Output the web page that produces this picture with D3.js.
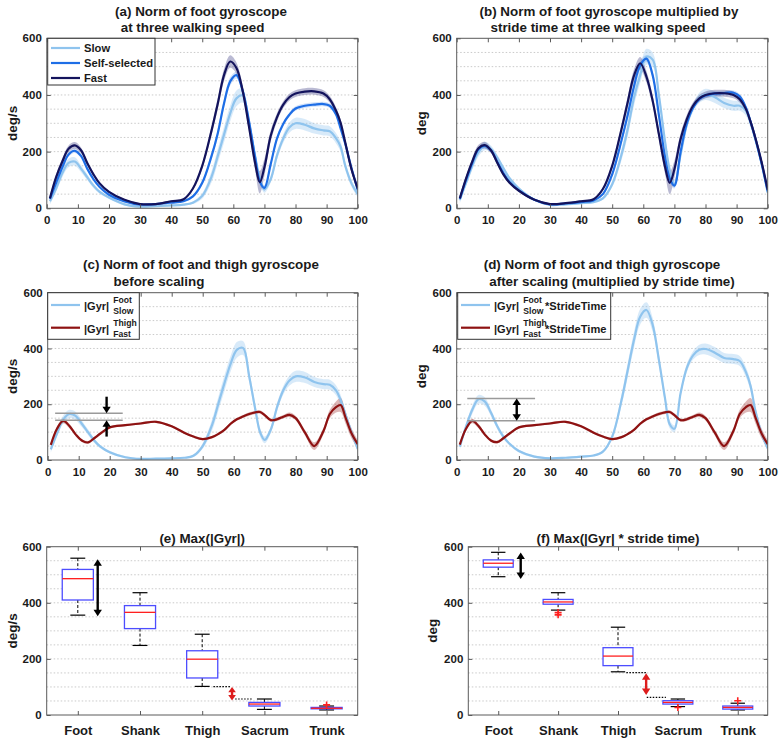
<!DOCTYPE html>
<html><head><meta charset="utf-8">
<script src="https://cdn.jsdelivr.net/npm/d3@7"></script>
<style>
body{margin:0;background:#fff}
svg{display:block;font-family:"Liberation Sans",Arial,sans-serif;font-weight:bold}
</style>
</head><body>
<svg id="c" width="780" height="741"></svg>
<script>
// ---------- DATA ----------
const pct = [1,3,5,7,9,11,13,15,17,20,25,30,35,40,44,47,50,53,55,57,59,61,63,65,67,68.5,70,72,74,76,78,80,83,86,89,91,93,94.5,96,98,100];

// (a) raw foot gyroscope norm (deg/s)
const slowA = [25,70,125,160,165,140,110,80,58,38, 14,6,8,10,13,20,44,112,185,260, 335,388,398,302,185,105,67,102,185,245, 285,300,295,282,275,272,248,218,150,88, 50];
const selfA = [33,90,145,190,203,185,140,103,75,48, 24,13,15,20,25,42,90,185,265,370, 448,470,415,310,180,95,72,155,245,297, 330,352,362,366,368,362,332,282,228,142, 65];
const fastA = [35,110,165,210,222,205,160,120,88,58, 30,15,15,25,32,70,150,275,370,470, 518,495,415,290,160,92,145,255,320,365, 392,405,412,413,405,385,345,302,232,138, 70];

// (b) multiplied by stride time (deg)
const slowB = [30,90,150,198,220,210,180,142,106,70, 30,12,14,18,22,35,85,190,280,390, 470,535,525,400,235,135,85,190,295,355, 390,402,392,372,362,362,345,302,245,160, 55];
const selfB = [33,100,160,208,220,205,165,125,93,63, 30,14,17,22,28,50,120,240,330,430, 505,528,470,330,180,105,80,200,300,355, 385,398,405,407,408,395,355,305,248,160, 60];
const fastB = [35,105,165,212,223,205,162,120,90,62, 30,15,18,25,32,68,150,280,375,468, 512,465,380,262,146,90,138,245,315,362, 388,400,406,406,400,385,350,305,250,165, 65];

// (c) before scaling, (d) after scaling
const footSlowC = [38,95,145,165,158,130,100,70,48,28, 10,4,5,6,8,15,50,125,200,275, 345,395,402,300,180,100,72,110,190,250, 285,300,296,280,272,270,250,215,165,100, 40];
const thighFastC = [54,112,140,122,92,70,63,78,95,117, 125,131,137,121,98,84,75,82,93,108, 130,146,156,165,171,172,161,143,146,155, 162,150,98,50,105,165,190,197,155,96, 57];
const footSlowD = [48,120,180,218,210,170,122,84,58,32, 12,6,8,12,16,30,84,215,323,430, 514,538,485,360,220,128,112,240,330,375, 395,398,385,366,362,355,315,265,179,96, 42];
const thighFastD = [55,112,140,122,92,70,64,78,95,117, 125,131,137,121,98,84,75,82,93,108, 130,146,156,165,171,172,161,143,146,155, 162,150,98,50,105,165,190,197,155,96, 57];

// shaded band half widths
const sdSlow = [12,12,15,15,15,12,10,8,6,5, 4,3,3,3,3,5,10,20,25,28, 28,28,25,20,18,15,12,12,15,15, 18,20,20,18,18,18,18,18,15,12, 10];
const sdSelf = [8,8,8,8,8,8,6,5,4,4, 3,3,3,3,3,4,8,12,15,15, 15,12,12,10,10,10,10,10,10,8, 8,8,8,8,8,8,8,8,8,8, 8];
const sdFast = [10,10,12,12,12,10,8,6,5,4, 3,3,3,3,3,5,10,15,20,22, 22,20,18,18,25,40,30,20,15,12, 12,12,12,12,12,12,12,12,12,12, 10];
const sdThigh = [8,8,8,8,6,5,5,5,4,4, 4,4,4,4,4,4,4,4,4,4, 5,5,5,6,6,6,6,6,6,6, 8,8,10,14,12,15,20,25,22,18, 15];

const xTicks = [0,10,20,30,40,50,60,70,80,90,100];
const yTicks = [0,200,400,600];
const gridVals = [50,100,150,200,250,300,350,400,450,500,550];
const segments = ["Foot","Shank","Thigh","Sacrum","Trunk"];

// (e) Max(|Gyr|)
const eLo  = [356,248,102,20,18];
const eQ1  = [410,308,132,32,22];
const eMed = [486,366,199,39,24];
const eQ3  = [519,390,229,45,27];
const eHi  = [559,436,288,57,32];
const eOut = [[5,36]];
// (f) Max(|Gyr| * stride time)
const fLo  = [493,374,154,30,18];
const fQ1  = [527,395,176,39,21];
const fMed = [541,403,210,45,27];
const fQ3  = [553,412,240,51,32];
const fHi  = [580,436,313,57,42];
const fOut = [[2,365],[2,357],[4,27],[5,51]];

// annotations
const cRefLines = [[2.4,24.2,168],[2.4,24.2,143]];
const dRefLines = [[3.4,25.2,221],[3.4,25.2,141]];

// ---------- STYLE ----------
const COL = {slow:"#8fc4ee", self:"#1e6ee6", fast:"#13135c", thigh:"#8e1212", box:"#4d4dff", med:"#ff2020", red:"#dd1c1c"};
const AX = "#5a5a5a", TXT = "#1a1a1a";
const svg = d3.select("#c");
svg.append("rect").attr("width",780).attr("height",741).attr("fill","#fff");

const P = {
  a:{x0:46.8,x1:357.7,y0:38.3,y1:208.3},
  b:{x0:456.7,x1:767.7,y0:38.3,y1:208.3},
  c:{x0:47.7,x1:357.7,y0:292.7,y1:460},
  d:{x0:456.7,x1:767.7,y0:292.7,y1:460},
  e:{x0:46.7,x1:357.7,y0:546.7,y1:715},
  f:{x0:468.3,x1:767.7,y0:546.7,y1:715}
};

let clipId = 0;
function setup(box){
  const y = d3.scaleLinear([0,600],[box.y1,box.y0]);
  const g = svg.append("g");
  g.selectAll("line.grid").data(gridVals).join("line").attr("class","grid")
    .attr("x1",box.x0).attr("x2",box.x1).attr("y1",d=>y(d)).attr("y2",d=>y(d))
    .attr("stroke","#c4c4c4").attr("stroke-width",0.9).attr("stroke-dasharray","1.5,2");
  const id = "clip"+(clipId++);
  svg.append("clipPath").attr("id",id).append("rect")
    .attr("x",box.x0).attr("y",box.y0).attr("width",box.x1-box.x0).attr("height",box.y1-box.y0);
  const data = svg.append("g").attr("clip-path",`url(#${id})`);
  return {y,data};
}

function styleAxis(sel, fs){
  sel.select(".domain").remove();
  sel.selectAll(".tick line").attr("stroke",AX);
  sel.selectAll(".tick text").attr("fill",TXT).attr("font-size",fs).attr("font-weight","bold")
    .attr("font-family","'Liberation Sans',Arial,sans-serif");
}

function axes(box, x, y, xVals, xFmt, xFs, xPad){
  svg.append("g").attr("transform",`translate(0,${box.y1})`)
    .call(d3.axisBottom(x).tickValues(xVals).tickSizeInner(-4).tickSizeOuter(0).tickPadding(xPad).tickFormat(xFmt))
    .call(s=>styleAxis(s,xFs));
  svg.append("g").attr("transform",`translate(0,${box.y0})`)
    .call(d3.axisTop(x).tickValues(xVals).tickSizeInner(-4).tickSizeOuter(0).tickFormat(""))
    .call(s=>styleAxis(s,0));
  svg.append("g").attr("transform",`translate(${box.x0},0)`)
    .call(d3.axisLeft(y).tickValues(yTicks).tickSizeInner(-4).tickSizeOuter(0).tickPadding(5))
    .call(s=>styleAxis(s,11.5));
  svg.append("g").attr("transform",`translate(${box.x1},0)`)
    .call(d3.axisRight(y).tickValues(yTicks).tickSizeInner(-4).tickSizeOuter(0).tickFormat(""))
    .call(s=>styleAxis(s,0));
  svg.append("rect").attr("x",box.x0).attr("y",box.y0).attr("width",box.x1-box.x0).attr("height",box.y1-box.y0)
    .attr("fill","none").attr("stroke",AX).attr("stroke-width",1);
}

function title(lines){
  lines.forEach(([t,cx,by])=>{
    svg.append("text").attr("x",cx).attr("y",by).attr("text-anchor","middle")
      .attr("font-size",13.4).attr("fill",TXT).text(t);
  });
}
function ylabel(t,x,cy){
  svg.append("text").attr("transform",`translate(${x},${cy}) rotate(-90)`).attr("text-anchor","middle")
    .attr("font-size",13.5).attr("fill",TXT).text(t);
}

function bands(g,x,y,series){
  series.forEach(([vals,sd,color,op])=>{
    const area = d3.area().x((d,i)=>x(pct[i])).y0((d,i)=>y(Math.max(0,vals[i]-sd[i]))).y1((d,i)=>y(vals[i]+sd[i])).curve(d3.curveCatmullRom);
    g.append("path").datum(vals).attr("d",area).attr("fill",color).attr("fill-opacity",op);
  });
}
function lines(g,x,y,series){
  series.forEach(([vals,color])=>{
    const line = d3.line().x((d,i)=>x(pct[i])).y(d=>y(d)).curve(d3.curveCatmullRom);
    g.append("path").datum(vals).attr("d",line).attr("fill","none").attr("stroke",color).attr("stroke-width",2.2);
  });
}

function head(g,x,y,dir,color,hl,hw){
  g.append("path").attr("d",`M${x},${y}L${x-hw},${y-dir*hl}L${x+hw},${y-dir*hl}Z`).attr("fill",color);
}
function arrow(g,x,yFrom,yTo,color,both){
  const dir = Math.sign(yTo-yFrom);
  const len = Math.abs(yTo-yFrom);
  const hl = Math.min(6.5, len*0.4), hw = Math.min(4.2, Math.max(3.8, len*0.25));
  g.append("line").attr("x1",x).attr("x2",x)
    .attr("y1", both ? yFrom + dir*hl*0.8 : yFrom).attr("y2", yTo - dir*hl*0.8)
    .attr("stroke",color).attr("stroke-width",2.4);
  head(g,x,yTo,dir,color,hl,hw);
  if(both) head(g,x,yFrom,-dir,color,hl,hw);
}

// ---------- PANEL (a) & (b) ----------
function speedPanel(box, slow, self, fast, yl, ylx, titleLines){
  const x = d3.scaleLinear([0,100],[box.x0,box.x1]);
  const {y,data} = setup(box);
  bands(data,x,y,[[slow,sdSlow,COL.slow,0.35],[self,sdSelf,COL.self,0.2],[fast,sdFast,"#3a3a80",0.35]]);
  lines(data,x,y,[[slow,COL.slow],[self,COL.self],[fast,COL.fast]]);
  axes(box,x,y,xTicks,d3.format("d"),11.5,8);
  title(titleLines);
  ylabel(yl,ylx,(box.y0+box.y1)/2);
  return {x,y};
}
speedPanel(P.a, slowA, selfA, fastA, "deg/s", 17,
  [["(a) Norm of foot gyroscope",201,15.5],["at three walking speed",192.5,31.5]]);
speedPanel(P.b, slowB, selfB, fastB, "deg", 426,
  [["(b) Norm of foot gyroscope multiplied by",609,15.5],["stride time at three walking speed",598,31.5]]);

// legend (a)
{
  const lg = svg.append("g");
  lg.append("rect").attr("x",47.7).attr("y",38.3).attr("width",107.3).attr("height",46.7)
    .attr("fill","#fff").attr("stroke","#333").attr("stroke-width",1);
  [["Slow",COL.slow,48],["Self-selected",COL.self,63],["Fast",COL.fast,78]].forEach(([t,c,yy])=>{
    lg.append("line").attr("x1",51).attr("x2",80).attr("y1",yy).attr("y2",yy).attr("stroke",c).attr("stroke-width",2.2);
    lg.append("text").attr("x",84).attr("y",yy+4).attr("font-size",11.2).attr("fill",TXT).text(t);
  });
}

// ---------- PANEL (c) & (d) ----------
function limbPanel(box, foot, thigh, yl, ylx, titleLines, refLines, arrowsFn){
  const x = d3.scaleLinear([0,100],[box.x0,box.x1]);
  const {y,data} = setup(box);
  bands(data,x,y,[[foot,sdSlow,COL.slow,0.35],[thigh,sdThigh,COL.thigh,0.3]]);
  lines(data,x,y,[[foot,COL.slow],[thigh,COL.thigh]]);
  refLines.forEach(([a,b,v])=>{
    svg.append("line").attr("x1",x(a)).attr("x2",x(b)).attr("y1",y(v)).attr("y2",y(v))
      .attr("stroke","#9a9a9a").attr("stroke-width",1.5);
  });
  arrowsFn(svg,x,y);
  axes(box,x,y,xTicks,d3.format("d"),11.5,8);
  title(titleLines);
  ylabel(yl,ylx,(box.y0+box.y1)/2);
}
limbPanel(P.c, footSlowC, thighFastC, "deg/s", 17,
  [["(c) Norm of foot and thigh gyroscope",201,268.5],["before scaling",159,285.5]],
  cRefLines,
  (g,x,y)=>{ arrow(g,x(19),y(227),y(168),"#000",false); arrow(g,x(19),y(84),y(143),"#000",false); });
limbPanel(P.d, footSlowD, thighFastD, "deg", 426,
  [["(d) Norm of foot and thigh gyroscope",602,268.5],["after scaling (multiplied by stride time)",612,285.5]],
  dRefLines,
  (g,x,y)=>{ arrow(g,x(19.3),y(141),y(221),"#000",true); });

function subLegend(x0, width, suffix){
  const lg = svg.append("g");
  lg.append("rect").attr("x",x0).attr("y",292.7).attr("width",width).attr("height",46.6)
    .attr("fill","#fff").attr("stroke","#333").attr("stroke-width",1);
  [[COL.slow,305,"Foot","Slow",309.5],[COL.thigh,327.7,"Thigh","Fast",332.5]].forEach(([c,ly,sup,sub,base])=>{
    lg.append("line").attr("x1",x0+3.3).attr("x2",x0+32.3).attr("y1",ly).attr("y2",ly).attr("stroke",c).attr("stroke-width",2.2);
    lg.append("text").attr("x",x0+36.3).attr("y",base).attr("font-size",11).attr("fill",TXT).text("|Gyr|");
    lg.append("text").attr("x",x0+65.6).attr("y",base-6.8).attr("font-size",8.6).attr("fill",TXT).text(sup);
    lg.append("text").attr("x",x0+65.6).attr("y",base+4).attr("font-size",8.6).attr("fill",TXT).text(sub);
    if(suffix) lg.append("text").attr("x",x0+87.3).attr("y",base).attr("font-size",11.1).attr("fill",TXT).text(suffix);
  });
}
subLegend(47.7, 91.6, "");
subLegend(457.7, 153, "*StrideTime");

// ---------- PANEL (e) & (f) ----------
function boxPanel(box, lo, q1, med, q3, hi, outl, yl, ylx, titleText, ann){
  const x = d3.scaleLinear([0.5,5.5],[box.x0,box.x1]);
  const {y} = setup(box);
  const g = svg.append("g");
  const step = x(2)-x(1), bw = step*0.5, cw = bw*0.48;
  segments.forEach((s,i)=>{
    const cx = x(i+1);
    g.append("line").attr("x1",cx).attr("x2",cx).attr("y1",y(hi[i])).attr("y2",y(q3[i]))
      .attr("stroke","#000").attr("stroke-width",1).attr("stroke-dasharray","3,2");
    g.append("line").attr("x1",cx).attr("x2",cx).attr("y1",y(q1[i])).attr("y2",y(lo[i]))
      .attr("stroke","#000").attr("stroke-width",1).attr("stroke-dasharray","3,2");
    [hi[i],lo[i]].forEach(v=>g.append("line").attr("x1",cx-cw/2).attr("x2",cx+cw/2).attr("y1",y(v)).attr("y2",y(v))
      .attr("stroke","#000").attr("stroke-width",1.2));
    g.append("rect").attr("x",cx-bw/2).attr("y",y(q3[i])).attr("width",bw).attr("height",Math.max(1,y(q1[i])-y(q3[i])))
      .attr("fill","#fff").attr("stroke",COL.box).attr("stroke-width",1.3);
    g.append("line").attr("x1",cx-bw/2).attr("x2",cx+bw/2).attr("y1",y(med[i])).attr("y2",y(med[i]))
      .attr("stroke",COL.med).attr("stroke-width",1.3);
  });
  outl.forEach(([k,v])=>{
    g.append("path").attr("transform",`translate(${x(k)},${y(v)})`).attr("d","M-3.5,0H3.5M0,-3.5V3.5")
      .attr("stroke",COL.med).attr("stroke-width",1.6);
  });
  ann(g,x,y);
  axes(box,x,y,[1,2,3,4,5],(d)=>segments[d-1],13,11);
  svg.append("text").attr("x",(box.x0+box.x1)/2).attr("y",542.5).attr("text-anchor","middle")
    .attr("font-size",13.4).attr("fill",TXT).text(titleText);
  ylabel(yl,ylx,(box.y0+box.y1)/2);
}
function dotted(g,x,y,a,b,v){
  g.append("line").attr("x1",x(a)).attr("x2",x(b)).attr("y1",y(v)).attr("y2",y(v))
    .attr("stroke","#000").attr("stroke-width",1.2).attr("stroke-dasharray","1.5,1.5");
}
boxPanel(P.e, eLo,eQ1,eMed,eQ3,eHi,eOut,"deg/s",17,"(e) Max(|Gyr|)",(g,x,y)=>{
  arrow(g,x(1.32),y(555),y(352),"#000",true);
  arrow(g,x(3.48),y(100),y(52),COL.red,true);
  dotted(g,x,y,3.18,3.45,101);
  dotted(g,x,y,3.53,3.8,57);
});
boxPanel(P.f, fLo,fQ1,fMed,fQ3,fHi,fOut,"deg",437,"(f) Max(|Gyr| * stride time)",(g,x,y)=>{
  arrow(g,x(1.375),y(579),y(485),"#000",true);
  arrow(g,x(3.47),y(149),y(71),COL.red,true);
  dotted(g,x,y,3.14,3.48,151);
  dotted(g,x,y,3.48,3.8,63);
});
</script>
</body></html>
